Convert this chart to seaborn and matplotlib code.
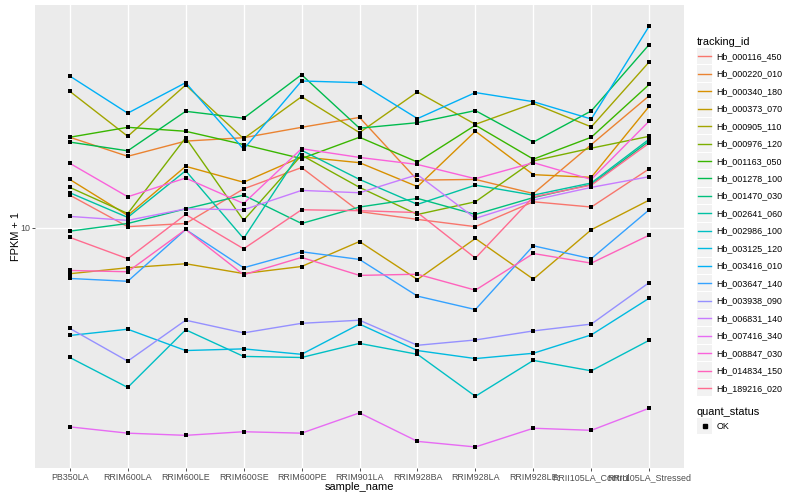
import matplotlib
matplotlib.use("Agg")
import matplotlib.pyplot as plt
import numpy as np
import pandas as pd
import seaborn as sns
from matplotlib.lines import Line2D
from matplotlib.patches import Rectangle
from matplotlib.legend_handler import HandlerBase
from matplotlib.ticker import NullLocator

# sample order on the x axis
samples = ["PB350LA", "RRIM600LA", "RRIM600LE", "RRIM600SE", "RRIM600PE",
           "RRIM901LA", "RRIM928BA", "RRIM928LA", "RRIM928LE",
           "RRII105LA_Control", "RRII105LA_Stressed"]

tracking_ids = ["Hb_000116_450", "Hb_000220_010", "Hb_000340_180", "Hb_000373_070",
                "Hb_000905_110", "Hb_000976_120", "Hb_001163_050", "Hb_001278_100",
                "Hb_001470_030", "Hb_002641_060", "Hb_002986_100", "Hb_003125_120",
                "Hb_003416_010", "Hb_003647_140", "Hb_003938_090", "Hb_006831_140",
                "Hb_007416_340", "Hb_008847_030", "Hb_014834_150", "Hb_189216_020"]

# FPKM + 1 per gene, one value per sample
hb_000116_450 = [13.5, 10.1, 10.4, 14.3, 17.4, 11.6, 10.8, 10.1, 12.7, 12.1, 17.2]
hb_000220_010 = [23.0, 19.3, 22.2, 22.9, 25.2, 27.6, 15.5, 15.6, 13.7, 21.5, 33.7]
hb_000340_180 = [15.6, 11.2, 17.6, 15.2, 19.2, 18.2, 14.6, 24.3, 16.3, 15.9, 30.6]
hb_000373_070 = [6.55, 6.92, 7.18, 6.56, 7.00, 8.81, 6.21, 9.06, 6.23, 9.82, 12.9]
hb_000905_110 = [35.1, 23.2, 37.2, 22.7, 33.4, 24.0, 34.9, 25.9, 31.4, 25.3, 46.0]
hb_000976_120 = [14.5, 11.4, 22.9, 10.7, 19.5, 14.5, 11.3, 12.7, 18.5, 20.8, 23.2]
hb_001163_050 = [23.0, 25.2, 24.3, 21.5, 18.9, 23.0, 18.3, 25.7, 18.8, 23.0, 37.4]
hb_001278_100 = [22.0, 20.3, 29.2, 27.4, 40.9, 25.0, 26.3, 29.4, 22.0, 29.3, 54.0]
hb_001470_030 = [9.69, 10.4, 11.9, 13.5, 10.4, 12.1, 13.1, 11.3, 13.2, 14.9, 22.2]
hb_002641_060 = [13.8, 11.0, 16.9, 9.06, 20.4, 15.6, 12.4, 14.8, 13.5, 15.1, 22.6]
hb_002986_100 = [3.03, 2.30, 3.91, 3.06, 3.03, 3.45, 3.12, 2.12, 2.95, 2.68, 3.55]
hb_003125_120 = [3.71, 3.93, 3.23, 3.28, 3.12, 4.12, 3.23, 3.00, 3.15, 3.73, 5.23]
hb_003416_010 = [40.4, 28.7, 38.0, 20.6, 38.6, 38.0, 27.3, 34.7, 31.9, 27.2, 64.0]
hb_003647_140 = [6.27, 6.11, 9.84, 6.92, 8.02, 7.47, 5.33, 4.71, 8.47, 7.52, 11.8]
hb_003938_090 = [3.96, 2.93, 4.27, 3.80, 4.15, 4.27, 3.39, 3.56, 3.87, 4.12, 6.04]
hb_006831_140 = [11.1, 10.7, 11.9, 11.8, 14.1, 13.8, 16.3, 10.9, 12.9, 14.5, 16.0]
hb_007416_340 = [1.60, 1.51, 1.48, 1.53, 1.51, 1.82, 1.40, 1.33, 1.58, 1.55, 1.90]
hb_008847_030 = [18.1, 13.3, 15.8, 12.5, 20.7, 19.1, 17.9, 15.7, 18.2, 15.6, 26.7]
hb_014834_150 = [6.75, 6.67, 9.84, 6.49, 7.61, 6.45, 6.52, 5.63, 7.89, 7.22, 9.34]
hb_189216_020 = [9.15, 7.52, 11.3, 8.24, 11.8, 11.7, 11.5, 7.56, 13.3, 14.8, 21.8]

series = [hb_000116_450, hb_000220_010, hb_000340_180, hb_000373_070, hb_000905_110,
          hb_000976_120, hb_001163_050, hb_001278_100, hb_001470_030, hb_002641_060,
          hb_002986_100, hb_003125_120, hb_003416_010, hb_003647_140, hb_003938_090,
          hb_006831_140, hb_007416_340, hb_008847_030, hb_014834_150, hb_189216_020]

# ggplot2 default hue palette for 20 levels
palette = ["#F8766D", "#EA8331", "#D89000", "#C09B00", "#A3A500", "#7CAE00", "#39B600",
           "#00BB4E", "#00BF7D", "#00C1A3", "#00BFC4", "#00BAE0", "#00B0F6", "#35A2FF",
           "#9590FF", "#C77CFF", "#E76BF3", "#FA62DB", "#FF62BC", "#FF6C90"]


class KeyHandler(HandlerBase):
    """ggplot-like legend key: grey square with a line or a point on it."""

    def __init__(self, point=False):
        super().__init__()
        self.point = point

    def create_artists(self, legend, orig_handle, xdescent, ydescent,
                       width, height, fontsize, trans):
        bg = Rectangle((-xdescent, -ydescent), width, height,
                       facecolor="#F2F2F2", edgecolor="none", transform=trans)
        yc = -ydescent + height / 2
        if self.point:
            mark = Line2D([-xdescent + width / 2], [yc], marker="s", ms=2.6,
                          color="black", linestyle="none", transform=trans)
        else:
            mark = Line2D([-xdescent + 1.2, -xdescent + width - 1.2], [yc, yc],
                          color=orig_handle.get_color(), lw=1.0, transform=trans)
        return [bg, mark]


def main():
    rows = []
    for gene, vals in zip(tracking_ids, series):
        for s, v in zip(samples, vals):
            rows.append({"tracking_id": gene, "sample_name": s, "fpkm": v,
                         "quant_status": "OK"})
    df = pd.DataFrame(rows)

    plt.rcParams["font.family"] = ["Liberation Sans", "DejaVu Sans"]

    fig = plt.figure(figsize=(8, 5), dpi=100)
    ax = fig.add_axes([35 / 800, 1 - 468 / 500, 649 / 800, 463 / 500])
    ax.set_facecolor("#EBEBEB")
    ax.set_yscale("log")

    sns.lineplot(data=df, x="sample_name", y="fpkm", hue="tracking_id",
                 hue_order=tracking_ids, palette=palette, estimator=None,
                 sort=False, linewidth=1.0, legend=False, ax=ax, zorder=2)
    sns.scatterplot(data=df, x="sample_name", y="fpkm", color="black", marker="s",
                    s=9, linewidth=0, legend=False, ax=ax, zorder=3)

    # ggplot-style limits: 0.6 units on discrete x, 5% of log range on y
    ax.set_xlim(-0.6, len(samples) - 0.4)
    lo, hi = np.log10(df["fpkm"].min()), np.log10(df["fpkm"].max())
    pad = 0.05 * (hi - lo)
    ax.set_ylim(10 ** (lo - pad), 10 ** (hi + pad))
    ax.set_yticks([10])
    ax.set_yticklabels(["10"])
    ax.yaxis.set_minor_locator(NullLocator())

    ax.grid(True, which="major", color="white", linewidth=1.0)
    ax.set_axisbelow(True)
    for sp in ax.spines.values():
        sp.set_visible(False)
    ax.tick_params(length=2, width=0.6, color="#333333", labelcolor="#4D4D4D",
                   labelsize=6.4, pad=1.6)

    ax.set_xlabel("sample_name", fontsize=7.9)
    ax.set_ylabel("FPKM + 1", fontsize=7.9)
    ax.xaxis.set_label_coords(0.5, -0.031)
    ax.yaxis.set_label_coords(-0.022, 0.5)

    line_handles = [Line2D([], [], color=c) for c in palette]
    fig.legend(line_handles, tracking_ids, title="tracking_id",
               loc="upper left", bbox_to_anchor=(0.871, 0.926),
               frameon=False, fontsize=6.4, title_fontsize=7.9,
               handlelength=1.75, handleheight=2.47, labelspacing=0.114,
               handletextpad=0.45, borderpad=0, borderaxespad=0,
               alignment="left", handler_map={Line2D: KeyHandler()})

    pt = Line2D([], [], color="black", marker="s", linestyle="none")
    fig.legend([pt], ["OK"], title="quant_status",
               loc="upper left", bbox_to_anchor=(0.871, 0.186),
               frameon=False, fontsize=6.4, title_fontsize=7.9,
               handlelength=1.75, handleheight=2.47, labelspacing=0.114,
               handletextpad=0.45, borderpad=0, borderaxespad=0,
               alignment="left", handler_map={pt: KeyHandler(point=True)})

    fig.savefig("out.png", dpi=100)


if __name__ == "__main__":
    main()
